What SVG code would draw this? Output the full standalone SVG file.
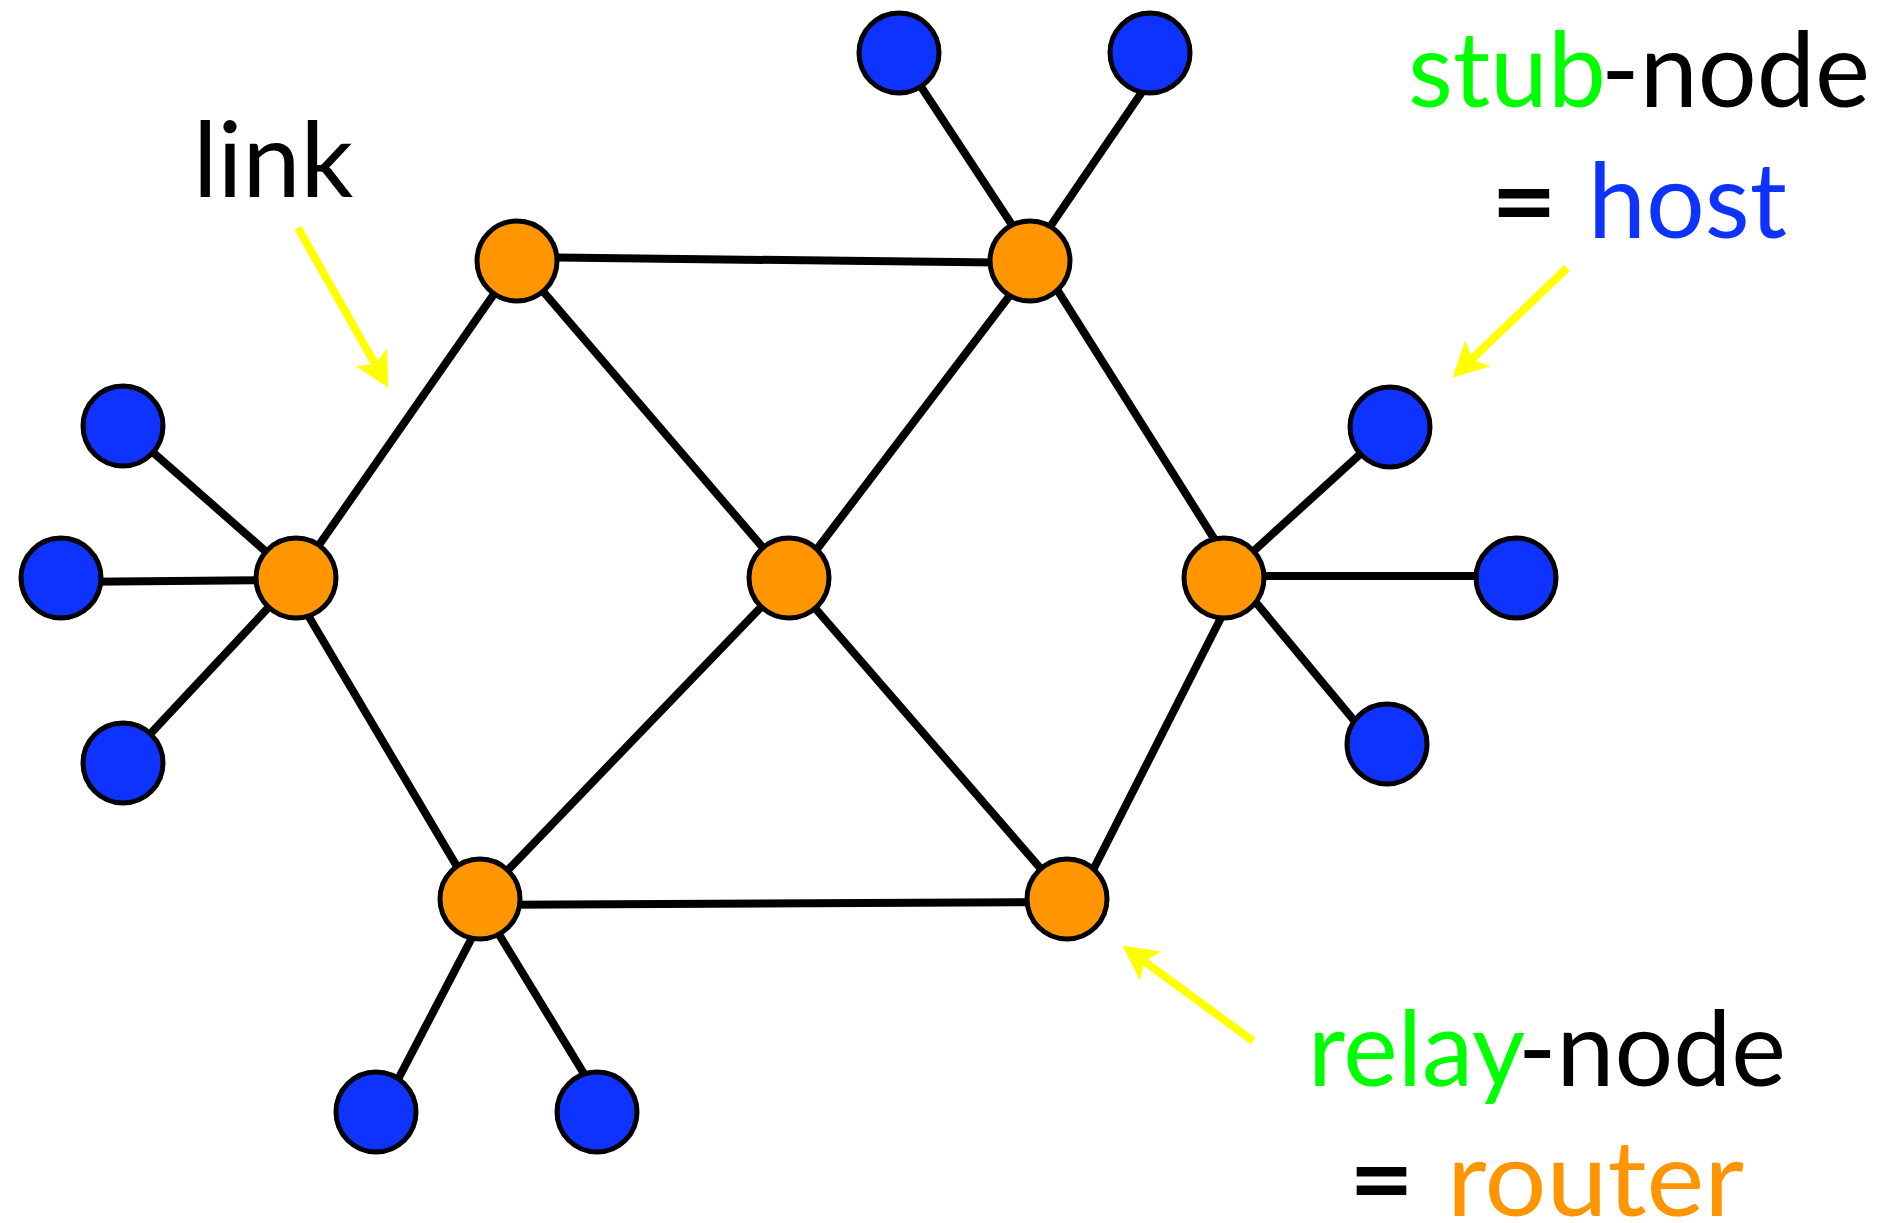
<svg xmlns="http://www.w3.org/2000/svg" width="1881" height="1223" viewBox="0 0 1881 1223">
<style>
.edge{stroke:#000;stroke-width:8;fill:none}
.router{fill:#ff9500;stroke:#000;stroke-width:5}
.host{fill:#0f33ff;stroke:#000;stroke-width:5}
.ptr{stroke:#ffff00;stroke-width:8;fill:none}
.lbl{font-family:Lato,"Open Sans","Liberation Sans",sans-serif;font-size:104px}
.eq{font-weight:700}
</style>
<defs>
<marker id="head" markerUnits="userSpaceOnUse" markerWidth="36" markerHeight="36" viewBox="0 0 34 35" refX="8" refY="17.5" orient="auto">
<path d="M0,0 L34,17.5 L0,35 L8,17.5 Z" fill="#ffff00"/>
</marker>
</defs>
<rect width="1881" height="1223" fill="#fff"/>
<g id="connectors">
<line class="edge" x1="296" y1="578" x2="517" y2="261"/>
<line class="edge" x1="293" y1="590" x2="465" y2="880"/>
<line class="edge" x1="517" y1="257" x2="1030" y2="263"/>
<line class="edge" x1="517" y1="261" x2="789" y2="578"/>
<line class="edge" x1="1036" y1="261" x2="795" y2="578"/>
<line class="edge" x1="1039" y1="261" x2="1220" y2="548"/>
<line class="edge" x1="789" y1="578" x2="480" y2="899"/>
<line class="edge" x1="789" y1="578" x2="1067" y2="899"/>
<line class="edge" x1="480" y1="905" x2="1067" y2="902"/>
<line class="edge" x1="1230" y1="600" x2="1088" y2="880"/>
<line class="edge" x1="296" y1="578" x2="123" y2="426"/>
<line class="edge" x1="296" y1="580" x2="61" y2="582"/>
<line class="edge" x1="296" y1="578" x2="123" y2="763"/>
<line class="edge" x1="910" y1="70" x2="1022" y2="240"/>
<line class="edge" x1="1157" y1="70" x2="1041" y2="240"/>
<line class="edge" x1="1224" y1="578" x2="1390" y2="427"/>
<line class="edge" x1="1224" y1="576" x2="1516" y2="576"/>
<line class="edge" x1="1248" y1="593" x2="1362" y2="730"/>
<line class="edge" x1="489" y1="905" x2="381" y2="1112"/>
<line class="edge" x1="478" y1="900" x2="600" y2="1100"/>
</g>
<g id="routers">
<g id="router-left"><circle class="router" cx="296" cy="578" r="40"/></g>
<g id="router-topleft"><circle class="router" cx="517" cy="261" r="40"/></g>
<g id="router-topright"><circle class="router" cx="1030" cy="261" r="40"/></g>
<g id="router-center"><circle class="router" cx="789" cy="578" r="40"/></g>
<g id="router-right"><circle class="router" cx="1224" cy="578" r="40"/></g>
<g id="router-bottomleft"><circle class="router" cx="480" cy="899" r="40"/></g>
<g id="router-bottomright"><circle class="router" cx="1067" cy="899" r="40"/></g>
</g>
<g id="hosts">
<g id="host-l1"><circle class="host" cx="123" cy="426" r="40"/></g>
<g id="host-l2"><circle class="host" cx="61" cy="578" r="40"/></g>
<g id="host-l3"><circle class="host" cx="123" cy="763" r="40"/></g>
<g id="host-t1"><circle class="host" cx="899" cy="53" r="40"/></g>
<g id="host-t2"><circle class="host" cx="1150" cy="53" r="40"/></g>
<g id="host-r1"><circle class="host" cx="1390" cy="427" r="40"/></g>
<g id="host-r2"><circle class="host" cx="1516" cy="578" r="40"/></g>
<g id="host-r3"><circle class="host" cx="1387" cy="744" r="40"/></g>
<g id="host-b1"><circle class="host" cx="376" cy="1112" r="40"/></g>
<g id="host-b2"><circle class="host" cx="597" cy="1112" r="40"/></g>
</g>
<g id="pointers">
<line class="ptr" x1="298" y1="228" x2="375.2" y2="364.4" marker-end="url(#head)"/>
<line class="ptr" x1="1567" y1="268" x2="1471.8" y2="359" marker-end="url(#head)"/>
<line class="ptr" x1="1253" y1="1041" x2="1144" y2="961.3" marker-end="url(#head)"/>
</g>
<g id="labels">
<text class="lbl" x="193" y="197" fill="#000">link</text>
<text class="lbl" y="107"><tspan x="1408" textLength="198" lengthAdjust="spacingAndGlyphs" fill="#00ff00">stub</tspan><tspan x="1601" textLength="269" lengthAdjust="spacingAndGlyphs" fill="#000">-node</tspan></text>
<text class="lbl" y="238"><tspan class="eq" x="1491" textLength="66" lengthAdjust="spacingAndGlyphs" fill="#000">=</tspan><tspan x="1588" textLength="199" lengthAdjust="spacingAndGlyphs" fill="#0f33ff">host</tspan></text>
<text class="lbl" y="1086"><tspan x="1308" textLength="217" lengthAdjust="spacingAndGlyphs" fill="#00ff00">relay</tspan><tspan x="1518" textLength="268" lengthAdjust="spacingAndGlyphs" fill="#000">-node</tspan></text>
<text class="lbl" y="1216"><tspan class="eq" x="1349" textLength="65" lengthAdjust="spacingAndGlyphs" fill="#000">=</tspan><tspan x="1447" textLength="297" lengthAdjust="spacingAndGlyphs" fill="#ff9500">router</tspan></text>
</g>
</svg>
